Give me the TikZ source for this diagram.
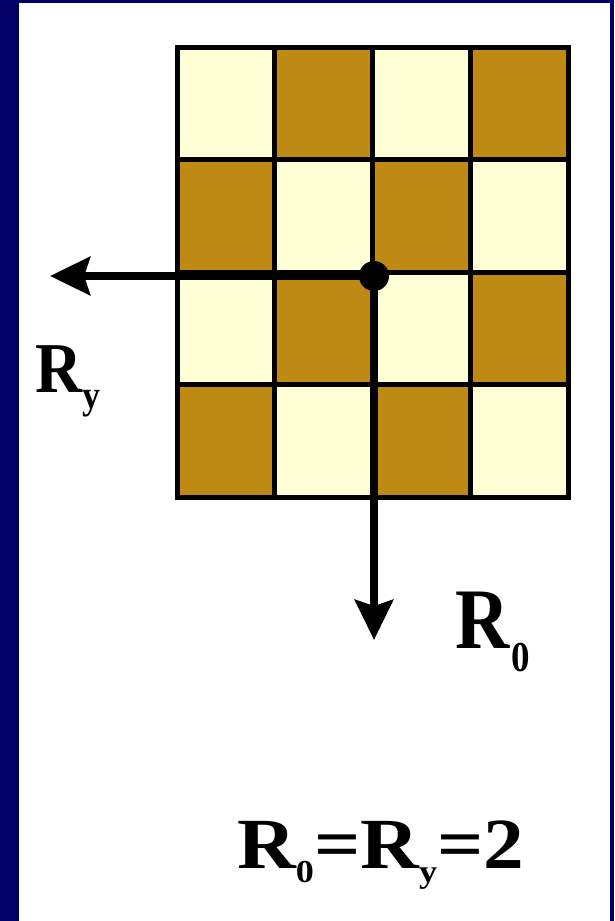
\documentclass[tikz,border=0pt]{standalone}
\usepackage{fontspec}
\setmainfont{Liberation Serif}
\usetikzlibrary{arrows.meta}
\definecolor{navy}{RGB}{0,0,102}
\definecolor{darkcell}{RGB}{191,138,20}
\definecolor{lightcell}{RGB}{255,255,214}
\begin{document}
\begin{tikzpicture}[x=1pt,y=-1pt,
  gridline/.style={line width=5pt, black, line cap=rect},
  axisarrow/.style={line width=8pt, -{Stealth[length=40pt,width=38pt,inset=6pt]}},
  lbl/.style={inner sep=0pt, anchor=base west, font=\bfseries}]
\useasboundingbox (0,0) rectangle (614,921);
\fill[navy] (0,0) rectangle (614,921);
\fill[white] (19,3) rectangle (610,921);
% checkerboard
\foreach \i in {0,...,3}{
  \foreach \j in {0,...,3}{
    \pgfmathtruncatemacro\p{mod(\i+\j,2)}
    \ifnum\p=0 \def\cc{lightcell}\else\def\cc{darkcell}\fi
    \fill[\cc] ({177+97.75*\i},{47+112.5*\j}) rectangle ++(97.75,112.5);
  }
}
\foreach \i in {0,...,4}{
  \draw[gridline] ({177+97.75*\i},47) -- ({177+97.75*\i},497);
  \draw[gridline] (177,{47+112.5*\i}) -- (568,{47+112.5*\i});
}
% axes
\node[circle, fill=black, inner sep=0pt, minimum size=30pt] (dot) at (374,276) {};
\coordinate (ly) at (50,276);
\coordinate (lo) at (374,640);
\draw[axisarrow] (dot.center) -- (ly);
\draw[axisarrow] (dot.center) -- (lo);
% labels
\node[lbl] (r0) at (455,648) {\fontsize{75}{75}\selectfont\scalebox{1}[1.15]{R\kern2pt\raisebox{-20pt}{\fontsize{37}{37}\selectfont 0}}};
\node[lbl] (ry) at (35,392) {\fontsize{65}{65}\selectfont\scalebox{1}[1.1]{R\raisebox{-15pt}{\fontsize{36}{36}\selectfont y}}};
\node[lbl] (eq) at (237,868) {\fontsize{72}{72}\selectfont\scalebox{1.13}[1]{R\raisebox{-14pt}{\fontsize{32}{32}\selectfont 0}=R\raisebox{-14pt}{\fontsize{32}{32}\selectfont y}=2}};
\end{tikzpicture}
\end{document}
